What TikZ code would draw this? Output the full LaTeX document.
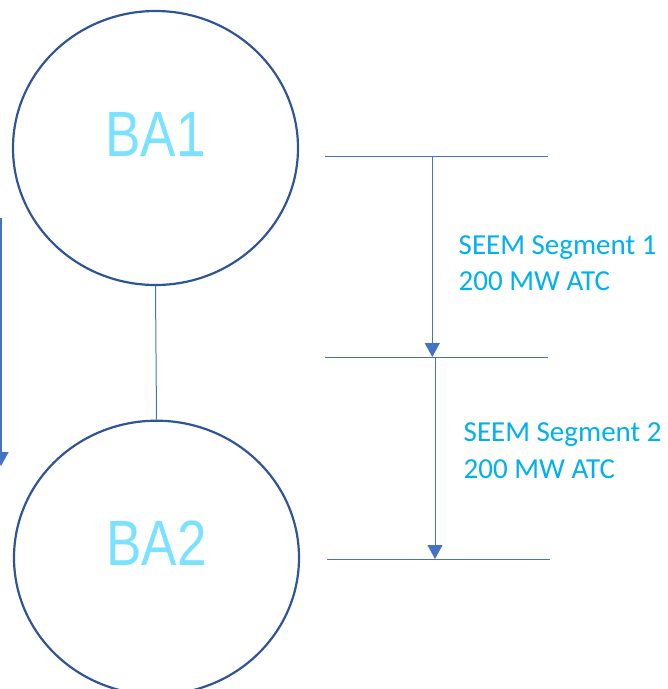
\documentclass[tikz,border=0pt]{standalone}
\usepackage{fontspec}
\usepackage{xcolor}
\usepackage{tikz}
\usetikzlibrary{shapes.geometric,arrows.meta}
\newfontfamily\segfont{Carlito}
\newfontfamily\bafont[FakeStretch=0.83]{Liberation Sans}
\definecolor{ringblue}{RGB}{47,85,151}
\definecolor{lineblue}{RGB}{68,114,196}
\definecolor{labelcyan}{RGB}{0,176,240}
\definecolor{bacyan}{RGB}{122,226,255}

\begin{document}
\begin{tikzpicture}[x=1pt,y=-1pt,
  ba/.style={ellipse,draw=ringblue,line width=2.2pt,minimum width=285pt,minimum height=274pt,
    inner sep=0pt,text=bacyan,font=\bafont\fontsize{64}{64}\selectfont,text height=46pt,text depth=30pt},
  link/.style={draw=lineblue,line width=1pt},
  flow/.style={link,-{Triangle[length=14pt,width=15pt]},color=lineblue},
  seg/.style={text=labelcyan,font=\segfont\fontsize{29}{36.7}\selectfont,align=left,
    anchor=base west,inner sep=0pt}]
  \useasboundingbox (0,0) rectangle (668,689);
  % balancing areas
  \node[ba] (ba1) at (155.5,148) {BA1};
  \node[ba] (ba2) at (156.5,557.7) {BA2};
  \draw[link] (ba1.south) -- (ba2.north);
  % left flow
  \coordinate (lt) at (1,218);
  \coordinate (lb) at (1,466);
  \draw[flow,line width=1.5pt] (lt) -- (lb);
  % segment marks
  \coordinate (m1l) at (325,156);   \coordinate (m1r) at (548,156);
  \coordinate (m2l) at (325,357);   \coordinate (m2r) at (548,357);
  \coordinate (m3l) at (327,559);   \coordinate (m3r) at (550,559);
  \draw[link] (m1l) -- (m1r);
  \draw[link] (m2l) -- (m2r);
  \draw[link] (m3l) -- (m3r);
  \coordinate (s1t) at (432.3,156); \coordinate (s1b) at (432.3,357);
  \coordinate (s2t) at (435,357);   \coordinate (s2b) at (435,559);
  \draw[flow] (s1t) -- (s1b);
  \draw[flow] (s2t) -- (s2b);
  % base is the last line here
  \node[seg] (seg1) at (458.5,290.7) {SEEM Segment 1\\200 MW ATC};
  \node[seg] (seg2) at (463.5,478.4) {SEEM Segment 2\\200 MW ATC};
\end{tikzpicture}
\end{document}
